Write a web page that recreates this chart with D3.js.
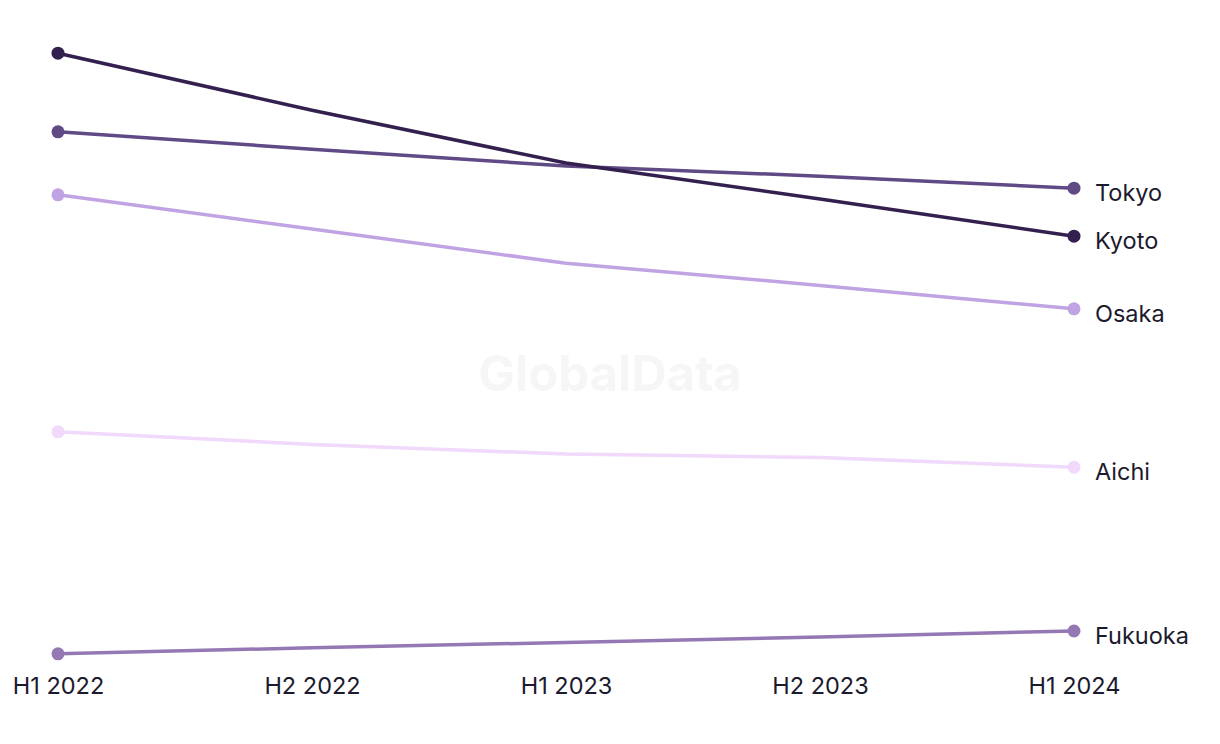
<!DOCTYPE html>
<html>
<head>
<meta charset="utf-8">
<script src="https://cdn.jsdelivr.net/npm/d3@7/dist/d3.min.js"></script>
<style>
  html, body { margin: 0; padding: 0; background: #ffffff; }
  svg { display: block; }
</style>
</head>
<body>
<svg id="chart" width="1220" height="744"></svg>
<script>
const periods = ["H1 2022", "H2 2022", "H1 2023", "H2 2023", "H1 2024"];
const cities = ["Tokyo", "Kyoto", "Osaka", "Aichi", "Fukuoka"];
const tokyo   = [94.7, 91.8, 89.0, 87.3, 85.3];
const kyoto   = [107.8, 98.3, 89.5, 83.5, 77.3];
const osaka   = [84.2, 78.5, 72.8, 69.1, 65.2];
const aichi   = [44.7, 42.6, 41.0, 40.4, 38.8];
const fukuoka = [7.7, 8.7, 9.6, 10.5, 11.5];
const colors  = ["#5f4a85", "#33204f", "#c0a3e2", "#f0d9fb", "#9478b4"];

const seriesValues = [tokyo, kyoto, osaka, aichi, fukuoka];
const series = cities.map((c, i) => ({ name: c, values: seriesValues[i], color: colors[i] }));

const svg = d3.select("#chart");
const font = "Inter, 'Noto Sans', sans-serif";

const x = d3.scalePoint().domain(periods).range([58, 1074]);
const y = d3.scaleLinear().domain([0, 120]).range([700, -20]);

// watermark
svg.append("text")
  .attr("x", 610).attr("y", 391)
  .attr("text-anchor", "middle")
  .attr("font-family", font)
  .attr("font-weight", 700)
  .attr("font-size", 49)
  .attr("fill", "#f6f6f6")
  .text("GlobalData");

const line = d3.line()
  .x((d, i) => x(periods[i]))
  .y(d => y(d));

const drawOrder = ["Aichi", "Fukuoka", "Osaka", "Tokyo", "Kyoto"];
drawOrder.forEach(name => {
  const s = series.find(d => d.name === name);
  const g = svg.append("g");
  g.append("path")
    .datum(s.values)
    .attr("d", line)
    .attr("fill", "none")
    .attr("stroke", s.color)
    .attr("stroke-width", 3.5)
    .attr("stroke-linejoin", "round");
  const last = s.values.length - 1;
  [0, last].forEach(i => {
    g.append("circle")
      .attr("cx", x(periods[i]))
      .attr("cy", y(s.values[i]))
      .attr("r", 6.5)
      .attr("fill", s.color);
  });
  g.append("text")
    .attr("x", x(periods[last]) + 21)
    .attr("y", y(s.values[last]))
    .attr("dy", "0.56em")
    .attr("font-family", font)
    .attr("font-size", 23.5)
    .attr("fill", "#1b1a2e")
    .text(s.name);
});

// x axis (labels only)
const axis = d3.axisBottom(x).tickSize(0).tickPadding(0);
const ag = svg.append("g").attr("transform", "translate(0,677)").call(axis);
ag.select(".domain").remove();
ag.selectAll("text")
  .attr("font-family", font)
  .attr("font-size", 23.5)
  .attr("fill", "#1b1a2e")
  .attr("dy", "0.71em");
</script>
</body>
</html>
